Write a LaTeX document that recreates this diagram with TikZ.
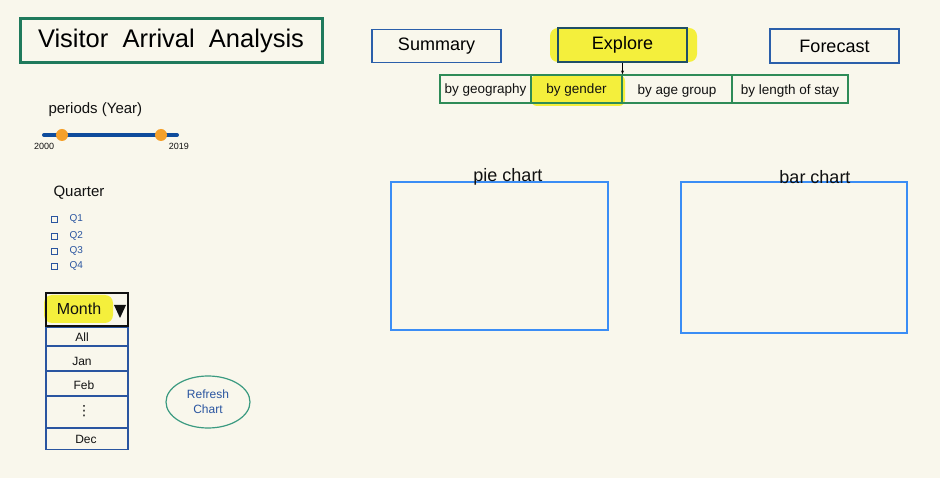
\documentclass[tikz,border=0pt]{standalone}
\usepackage{fontspec}
\setmainfont{Liberation Sans}
\newfontfamily\symfont{DejaVu Sans}
\usepackage{xcolor}
\usepackage{tikz}
\usetikzlibrary{calc,arrows.meta,shapes.geometric}
\definecolor{paper}{HTML}{F9F7EC}
\definecolor{ink}{HTML}{111111}
\definecolor{titlegreen}{HTML}{1F7A5C}
\definecolor{tabblue}{HTML}{2B5FAA}
\definecolor{tealdark}{HTML}{1F4F66}
\definecolor{tabgreen}{HTML}{2E8B57}
\definecolor{marker}{HTML}{F4EF3C}
\definecolor{slider}{HTML}{0F4C9C}
\definecolor{knob}{HTML}{F5A02A}
\definecolor{chartblue}{HTML}{3B8DF5}
\definecolor{ringgreen}{HTML}{3A9A80}
\definecolor{qblue}{HTML}{2A55A0}
\tikzset{
  frame/.style={draw=titlegreen, line width=3pt},
  tabbox/.style={draw=tabblue, line width=1.3pt, inner sep=0pt, font=\fontsize{18}{20}\selectfont},
  bar/.style={draw=tabgreen, line width=1.2pt},
  hl/.style={fill=marker, draw=none, rounded corners=8pt},
  lab/.style={text=ink, font=\fontsize{13.5}{16}\selectfont},
  labs/.style={text=ink, font=\fontsize{12}{14}\selectfont},
  qlab/.style={text=qblue, font=\fontsize{10}{12}\selectfont},
  chk/.style={draw=qblue, line width=0.8pt, minimum size=6pt, inner sep=0pt},
  knobdot/.style={circle, fill=knob, inner sep=0pt, minimum size=12pt},
  chart/.style={draw=chartblue, line width=1.3pt},
  arr/.style={-{Stealth[length=4pt]}, line width=0.7pt},
}
\begin{document}
\begin{tikzpicture}[x=1pt, y=-1pt]
  \useasboundingbox[fill=paper] (0,0) rectangle (940,478);
  % title
  \node[frame, minimum width=302pt, minimum height=44pt] (title) at (171,40.5)
    {\fontsize{25.5}{28}\selectfont Visitor\ \ Arrival\ \ Analysis};
  % top tabs
  \fill[hl] (550,28) rectangle (697,62);
  \node[tabbox, minimum width=129pt, minimum height=33pt] (summary) at (436.5,46) {Summary};
  \node[tabbox, draw=tealdark, minimum width=129pt, minimum height=34pt] (explore) at (622.5,45) {Explore};
  \node[tabbox, minimum width=129pt, minimum height=34pt] (forecast) at (834.5,46) {Forecast};
  % sub tabs
  \fill[hl, rounded corners=6pt] (531,75) rectangle (625,106);
  \node[bar, minimum width=408pt, minimum height=28pt, inner sep=0pt] (tabs) at (644,89) {};
  \foreach \x in {531,622,732}
    \draw[bar] (\x,75) -- (\x,103);
  \node[lab] (geo) at (485.5,90) {by geography};
  \node[lab] (gender) at (576.5,90) {by gender};
  \node[lab] (age) at (677,91) {by age group};
  \node[lab] (stay) at (790,91) {by length of stay};
  \draw[arr] (explore.south) -- (explore.south |- tabs.north);
  % periods slider
  \node[lab, font=\fontsize{15}{17}\selectfont, anchor=west] (periods) at (45,110) {periods (Year)};
  \draw[slider, line width=4pt, line cap=round] (44,135) -- (177,135);
  \node[knobdot, label={[labs, font=\fontsize{9}{10}\selectfont]below left:2000}] (start) at (62,135) {};
  \node[knobdot, label={[labs, font=\fontsize{9}{10}\selectfont]below right:2019}] (end) at (161,135) {};
  % quarter
  \node[lab, font=\fontsize{15}{17}\selectfont, anchor=west] (quarter) at (50,193) {Quarter};
  \foreach \q/\y in {1/219,2/236,3/251,4/266} {
    \node[chk] (c\q) at (54,\y) {};
    \node[qlab, anchor=west] (q\q) at (66,\y) {Q\q};
  }
  % month dropdown
  \fill[hl] (44,295) rectangle (113,323);
  \node[draw=ink, line width=1.2pt, minimum width=82pt, minimum height=33pt, inner sep=0pt] (month) at (87,309.5) {};
  \node[lab, font=\fontsize{16}{18}\selectfont] (mtext) at (79,309) {Month};
  \fill[ink] (114,305) -- (126,305) -- (120,318) -- cycle;
  \node[draw=qblue, line width=1.2pt, anchor=north, minimum width=82pt, minimum height=122pt, inner sep=0pt] (list) at (month.south) {};
  \foreach \y in {346,371,396,428}
    \draw[qblue, line width=1.2pt] (list.west |- 0,\y) -- (list.east |- 0,\y);
  \node[labs] (all) at (82,337) {All};
  \node[labs] (jan) at (82,361) {Jan};
  \node[labs] (feb) at (84,385) {Feb};
  \node[labs, font=\symfont\fontsize{14}{16}\selectfont] (dots) at (84,411) {⋮};
  \node[labs] (dec) at (86,439) {Dec};
  % refresh button
  \node[ellipse, draw=ringgreen, line width=1.2pt, minimum width=84pt, minimum height=52pt,
    align=center, text=qblue, font=\fontsize{12}{15}\selectfont] (refresh) at (208,402) {Refresh\\Chart};
  % charts
  \draw[chart] (391,182) rectangle (608,330);
  \node[lab, font=\fontsize{18}{20}\selectfont] (pielab) at (508,177) {pie chart};
  \draw[chart] (681,182) rectangle (907,333);
  \node[lab, font=\fontsize{18}{20}\selectfont] (barlab) at (815,177) {bar chart};
\end{tikzpicture}
\end{document}
